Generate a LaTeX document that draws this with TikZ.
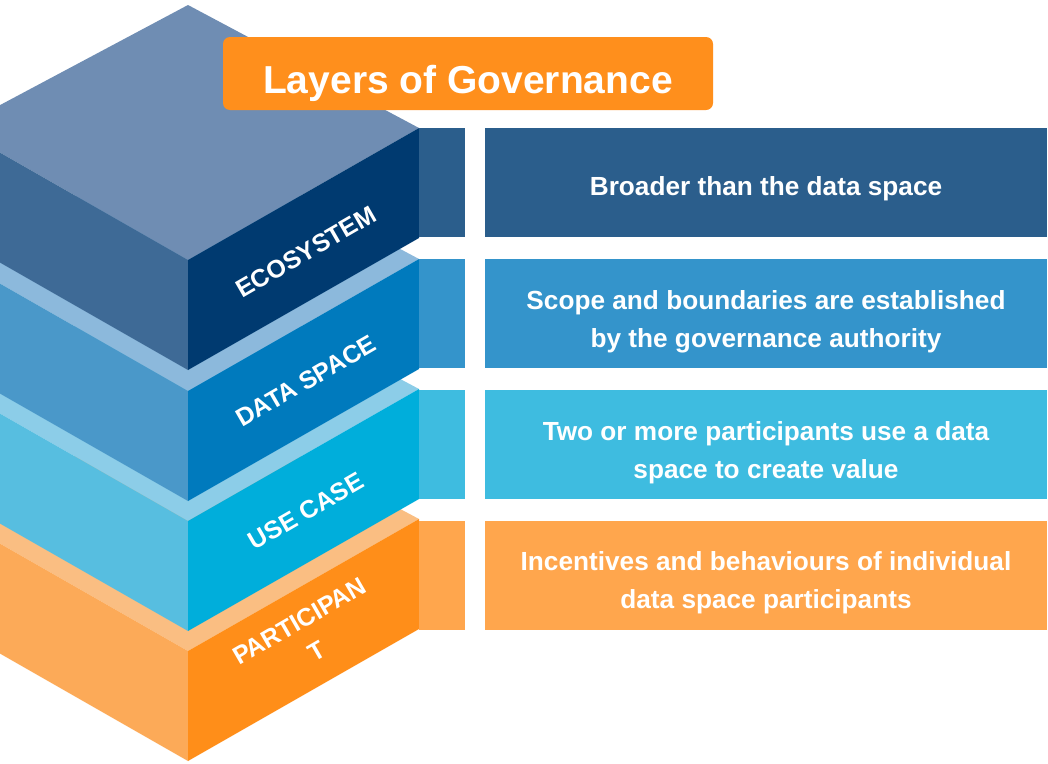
\documentclass[tikz,border=0pt]{standalone}
\usepackage{fontspec}
\setmainfont{Liberation Sans}
\usetikzlibrary{positioning}

\definecolor{ecoTop}{HTML}{6F8DB3}
\definecolor{ecoLeft}{HTML}{3E6A96}
\definecolor{ecoFront}{HTML}{003A70}
\definecolor{ecoFill}{HTML}{2B5E8C}
\definecolor{dsTop}{HTML}{8CB9DC}
\definecolor{dsLeft}{HTML}{4A98C9}
\definecolor{dsFront}{HTML}{007ABD}
\definecolor{dsFill}{HTML}{3494CB}
\definecolor{useTop}{HTML}{8CCDE8}
\definecolor{useLeft}{HTML}{57BEE0}
\definecolor{useFront}{HTML}{00AEDB}
\definecolor{useFill}{HTML}{3EBCE0}
\definecolor{partTop}{HTML}{FABE82}
\definecolor{partLeft}{HTML}{FCAA58}
\definecolor{partFront}{HTML}{FF8E19}
\definecolor{partFill}{HTML}{FFA64D}
\definecolor{titleOrange}{HTML}{FF8F1C}

\begin{document}
\begin{tikzpicture}[x=1pt, y=-1pt,
  panel/.style={minimum width=562pt, minimum height=109pt, inner sep=0pt},
  tab/.style={minimum width=46pt, minimum height=109pt, inner sep=0pt},
  paneltext/.style={text=white, font=\bfseries\fontsize{26.2}{38}\selectfont, align=center},
  facetext/.style={text=white, font=\bfseries\fontsize{25}{35}\selectfont, align=center, rotate=30},
  titlebox/.style={fill=titleOrange, rounded corners=7pt, minimum width=490pt, minimum height=73pt,
    inner sep=0pt, text height=39pt, text depth=0pt, text=white, font=\bfseries\fontsize{39}{39}\selectfont}]

  \clip (0,0) rectangle (1048,763);
  \fill[white] (0,0) rectangle (1048,763);

  \foreach \y/\ct/\cl/\cf in {519/partTop/partLeft/partFront, 389/useTop/useLeft/useFront,
                              259/dsTop/dsLeft/dsFront, 128/ecoTop/ecoLeft/ecoFront} {
    \fill[\ct] (188,\y-123) -- (419,\y) -- (188,\y+132) -- (-43,\y) -- cycle;
    \fill[\cl] (-43,\y) -- (188,\y+132) -- (188,\y+242) -- (-43,\y+110) -- cycle;
    \fill[\cf] (188,\y+132) -- (419,\y) -- (419,\y+110) -- (188,\y+242) -- cycle;
  }

  \node (eco) [panel, fill=ecoFill] at (766,182.5) {};
  \node (ds) [panel, fill=dsFill, below=21.5pt of eco] {};
  \node (use) [panel, fill=useFill, below=21.5pt of ds] {};
  \node (part) [panel, fill=partFill, below=21.5pt of use] {};

  \node (ecoTab) [tab, fill=ecoFill, left=20pt of eco] {};
  \node (dsTab) [tab, fill=dsFill, left=20pt of ds] {};
  \node (useTab) [tab, fill=useFill, left=20pt of use] {};
  \node (partTab) [tab, fill=partFill, left=20pt of part] {};

  \node (ecoText) [paneltext] at ([yshift=-6pt]eco.center) {Broader than the data space};
  \node (dsText) [paneltext] at ([yshift=-8pt]ds.center) {Scope and boundaries are established\\by the governance authority};
  \node (useText) [paneltext] at ([yshift=-8pt]use.center) {Two or more participants use a data\\space to create value};
  \node (partText) [paneltext] at ([yshift=-8pt]part.center) {Incentives and behaviours of individual\\data space participants};

  \node (ecoLabel) [facetext] at (306,252) {ECOSYSTEM};
  \node (dsLabel) [facetext] at (306,381) {DATA SPACE};
  \node (useLabel) [facetext] at (306,511) {USE CASE};
  \node (partLabel) [facetext] at (308,636) {PARTICIPAN\\T};

  \node (title) [titlebox] at (468,73.5) {Layers of Governance};

\end{tikzpicture}
\end{document}
